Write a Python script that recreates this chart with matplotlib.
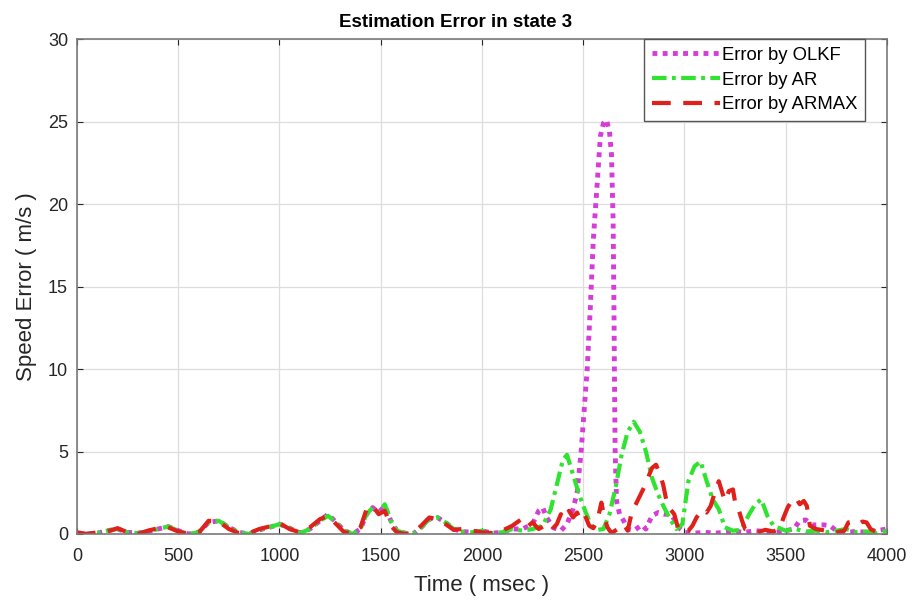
import numpy as np
import matplotlib
matplotlib.use("Agg")
import matplotlib.pyplot as plt

# values
t_olkf = [0, 50, 100, 150, 200, 250, 300, 350, 400, 450, 500, 550, 600, 650,
          700, 750, 800, 850, 900, 950, 1000, 1050, 1100, 1150, 1200, 1240,
          1280, 1320, 1360, 1400, 1430, 1460, 1490, 1520, 1550, 1580, 1620,
          1660, 1700, 1740, 1780, 1820, 1860, 1900, 1950, 2000, 2050, 2100,
          2150, 2200, 2250, 2280, 2300, 2320, 2350, 2390, 2420, 2450, 2470,
          2490, 2505, 2520, 2535, 2550, 2568, 2585, 2600, 2615, 2630, 2640,
          2648, 2652, 2655, 2658, 2665, 2680, 2700, 2720, 2750, 2790, 2810,
          2840, 2870, 2900, 2930, 2950, 2980, 3000, 3050, 3100, 3150, 3200,
          3250, 3300, 3350, 3400, 3450, 3500, 3540, 3570, 3600, 3630, 3660,
          3690, 3720, 3750, 3800, 3850, 3900, 3950, 4000]
e_olkf = [0.0, 0.0, 0.05, 0.2, 0.3, 0.1, 0.05, 0.15, 0.3, 0.45, 0.2, 0.0, 0.1,
          0.7, 0.8, 0.4, 0.1, 0.0, 0.25, 0.4, 0.6, 0.35, 0.05, 0.3, 0.8, 1.2,
          0.7, 0.2, 0.0, 0.3, 1.2, 1.6, 1.3, 1.7, 0.8, 0.2, 0.05, 0.0, 0.4,
          0.9, 1.0, 0.7, 0.3, 0.15, 0.1, 0.2, 0.05, 0.1, 0.3, 0.3, 0.6, 1.4,
          1.6, 1.0, 0.4, 0.2, 0.6, 1.5, 2.5, 5.0, 7.5, 10.0, 13.6, 17.8, 21.0,
          24.1, 24.9, 25.1, 24.4, 23.0, 19.0, 14.0, 9.0, 5.0, 2.0, 1.2, 0.8,
          0.3, 0.2, 0.55, 0.3, 1.1, 1.3, 1.2, 1.2, 0.9, 0.3, 0.1, 0.05, 0.1,
          0.05, 0.1, 0.15, 0.1, 0.2, 0.15, 0.1, 0.2, 0.3, 0.8, 0.85, 0.55,
          0.55, 0.55, 0.5, 0.2, 0.1, 0.15, 0.1, 0.2, 0.3]

t_ar = [0, 50, 100, 150, 200, 250, 300, 350, 400, 450, 500, 550, 600, 650,
        700, 750, 800, 850, 900, 950, 1000, 1050, 1100, 1150, 1200, 1240,
        1280, 1320, 1360, 1400, 1430, 1460, 1490, 1520, 1550, 1580, 1620,
        1660, 1700, 1740, 1780, 1820, 1860, 1900, 1950, 2000, 2050, 2100,
        2150, 2200, 2250, 2300, 2340, 2370, 2400, 2420, 2450, 2480, 2510,
        2540, 2570, 2600, 2630, 2660, 2690, 2720, 2750, 2780, 2810, 2840,
        2870, 2900, 2930, 2960, 2990, 3020, 3050, 3080, 3110, 3140, 3170,
        3200, 3240, 3280, 3320, 3350, 3380, 3410, 3440, 3470, 3500, 3550,
        3600, 3650, 3700, 3750, 3800, 3850, 3900, 3950, 4000]
e_ar = [0.0, 0.0, 0.05, 0.2, 0.3, 0.1, 0.05, 0.15, 0.3, 0.45, 0.2, 0.0, 0.1,
        0.7, 0.8, 0.4, 0.1, 0.0, 0.25, 0.4, 0.6, 0.35, 0.05, 0.3, 0.8, 1.1,
        0.7, 0.2, 0.0, 0.3, 1.2, 1.6, 1.3, 1.8, 0.8, 0.2, 0.05, 0.0, 0.4,
        0.9, 1.0, 0.7, 0.3, 0.15, 0.1, 0.2, 0.05, 0.1, 0.3, 0.2, 0.3, 0.5,
        1.5, 3.0, 4.5, 4.8, 3.6, 2.4, 1.4, 0.5, 0.25, 0.3, 1.2, 2.8, 4.8,
        6.2, 6.8, 6.2, 5.0, 3.4, 2.4, 1.6, 0.9, 0.3, 0.6, 3.2, 4.1, 4.4, 3.2,
        2.1, 1.5, 0.4, 0.2, 0.25, 1.2, 1.8, 2.1, 1.1, 0.5, 0.35, 0.2, 0.3,
        0.15, 0.2, 0.1, 0.2, 0.3, 0.1, 0.15, 0.05, 0.2]

t_armax = [0, 50, 100, 150, 200, 250, 300, 350, 400, 450, 500, 550, 600, 650,
           700, 750, 800, 850, 900, 950, 1000, 1050, 1100, 1150, 1200, 1240,
           1280, 1320, 1360, 1400, 1430, 1460, 1490, 1520, 1550, 1580, 1620,
           1660, 1700, 1740, 1780, 1820, 1860, 1900, 1950, 2000, 2050, 2100,
           2150, 2190, 2220, 2250, 2280, 2310, 2340, 2370, 2390, 2410, 2430,
           2450, 2470, 2490, 2510, 2530, 2550, 2570, 2590, 2605, 2620, 2640,
           2670, 2700, 2720, 2740, 2760, 2780, 2800, 2820, 2840, 2860, 2880,
           2895, 2910, 2930, 2950, 2970, 3000, 3020, 3040, 3060, 3090, 3110,
           3130, 3150, 3170, 3185, 3200, 3220, 3240, 3255, 3270, 3285, 3300,
           3330, 3360, 3400, 3440, 3470, 3490, 3510, 3530, 3550, 3570, 3590,
           3605, 3620, 3650, 3700, 3750, 3790, 3810, 3840, 3860, 3880, 3900,
           3920, 3950, 3980, 4000]
e_armax = [0.1, 0.0, 0.1, 0.15, 0.35, 0.1, 0.0, 0.2, 0.35, 0.4, 0.15, 0.0,
           0.05, 0.8, 0.75, 0.3, 0.05, 0.05, 0.3, 0.45, 0.65, 0.3, 0.1, 0.4,
           0.9, 1.1, 0.6, 0.1, 0.05, 0.4, 1.5, 1.7, 1.2, 1.4, 0.5, 0.1, 0.0,
           0.05, 0.5, 1.0, 0.9, 0.6, 0.25, 0.3, 0.2, 0.1, 0.05, 0.2, 0.5, 0.85,
           0.4, 0.7, 0.3, 0.5, 0.2, 0.6, 1.2, 0.9, 1.4, 1.0, 1.3, 0.8, 1.1,
           0.5, 0.35, 0.8, 1.9, 1.0, 0.4, 0.05, 0.3, 0.6, 0.2, 1.3, 1.8, 2.3,
           2.8, 3.4, 4.0, 4.2, 3.6, 3.0, 2.1, 1.5, 1.2, 0.3, 0.1, 0.2, 0.5,
           1.0, 1.5, 1.3, 1.7, 2.5, 3.2, 2.6, 2.0, 2.6, 2.7, 1.6, 1.4, 0.8,
           0.3, 0.2, 0.1, 0.25, 0.15, 0.3, 1.0, 1.6, 2.0, 2.2, 1.8, 2.0, 1.7,
           0.5, 0.3, 0.2, 0.1, 0.2, 0.7, 0.75, 0.6, 0.75, 0.7, 0.3, 0.1, 0.2,
           0.3]

x_ticks = [0, 500, 1000, 1500, 2000, 2500, 3000, 3500, 4000]
y_ticks = [0, 5, 10, 15, 20, 25, 30]

plt.rcParams["font.family"] = ["Liberation Sans", "DejaVu Sans"]

fig = plt.figure(figsize=(9.15, 6.02), dpi=100)
ax = fig.add_axes([0.0842, 0.113, 0.885, 0.822])

ax.plot(t_olkf, e_olkf, color="#d63cd6", lw=3.5,
        linestyle=(0, (1, 1.1)), label="Error by OLKF")
ax.plot(t_ar, e_ar, color="#2fe32f", lw=3.0,
        linestyle=(0, (3.5, 1.3, 0.9, 1.3)), label="Error by AR")
ax.plot(t_armax, e_armax, color="#e0201a", lw=3.0,
        linestyle=(0, (4.5, 3)), label="Error by ARMAX")

ax.set_xlim(0, 4000)
ax.set_ylim(0, 30)
ax.set_xticks(x_ticks)
ax.set_yticks(y_ticks)
ax.grid(True, color="#dddddd", lw=0.9)
ax.set_axisbelow(True)
ax.tick_params(direction="in", top=True, right=True, labelsize=13,
               colors="#262626", length=4)
ax.tick_params(axis="x", pad=10)
ax.tick_params(axis="y", pad=6.5)
for sp in ax.spines.values():
    sp.set_color("#7a7a7a")
    sp.set_linewidth(1.2)

ax.set_xlabel("Time ( msec )", fontsize=16, color="#262626", labelpad=7)
ax.set_ylabel("Speed Error ( m/s )", fontsize=16, color="#262626",
              labelpad=8)
ax.set_title("Estimation Error in state 3", fontsize=13.5,
             fontweight="bold", pad=9, x=0.468)

leg = ax.legend(loc="upper right", bbox_to_anchor=(0.973, 1.0),
                borderaxespad=0, fancybox=False, framealpha=1,
                edgecolor="#555555", fontsize=13.3, handlelength=3.7,
                handletextpad=0.1, labelspacing=0.42, borderpad=0.42)
leg.get_frame().set_linewidth(1.0)

plt.savefig("out.png", dpi=100)
